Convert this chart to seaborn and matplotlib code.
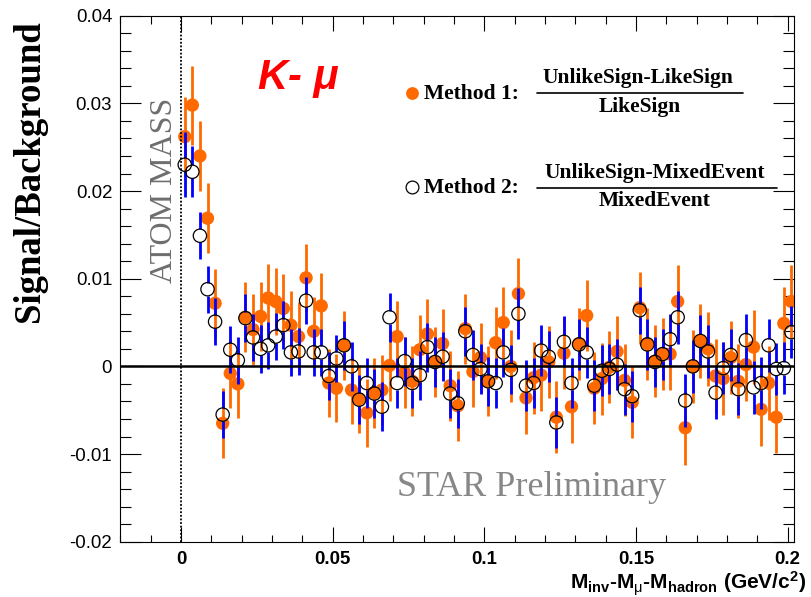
import numpy as np
import pandas as pd
import matplotlib
matplotlib.use("Agg")
import matplotlib.pyplot as plt
import seaborn as sns
from matplotlib.ticker import MultipleLocator, FuncFormatter

# ---------------------------------------------------------------- data
# bin centres of the 2.5 MeV mass-difference bins (GeV/c^2)
mass = np.arange(0.00125, 0.2015, 0.0025)

# Method 1: (UnlikeSign - LikeSign) / LikeSign
method1 = [
    0.0262, 0.0298, 0.0240, 0.0169, 0.0072, -0.0065, -0.0008, -0.0020, 0.0056, 0.0042,
    0.0057, 0.0078, 0.0074, 0.0066, 0.0047, 0.0034, 0.0101, 0.0040, 0.0069, -0.0019,
    -0.0025, 0.0024, -0.0027, -0.0037, -0.0053, -0.0030, -0.0027, 0.0001, 0.0034, -0.0007,
    -0.0017, 0.0019, 0.0037, 0.0005, 0.0026, -0.0022, -0.0045, 0.0043, -0.0006, 0.0010,
    -0.0017, 0.0027, 0.0050, 0.0000, 0.0083, -0.0036, -0.0013, -0.0010, 0.0005, -0.0058,
    0.0015, -0.0046, 0.0026, 0.0058, -0.0025, -0.0014, -0.0001, 0.0017, -0.0016, -0.0041,
    0.0067, 0.0026, 0.0006, 0.0014, 0.0014, 0.0074, -0.0070, 0.0000, 0.0029, 0.0020,
    -0.0011, -0.0014, 0.0010, -0.0017, 0.0002, 0.0022, -0.0049, -0.0019, -0.0058, 0.0049,
    0.0074,
]
method1_err = [
    0.0045, 0.0045, 0.0040, 0.0040, 0.0039, 0.0040, 0.0039, 0.0039, 0.0040, 0.0040,
    0.0039, 0.0039, 0.0038, 0.0039, 0.0039, 0.0039, 0.0039, 0.0039, 0.0038, 0.0039,
    0.0039, 0.0039, 0.0039, 0.0039, 0.0039, 0.0040, 0.0040, 0.0040, 0.0040, 0.0040,
    0.0040, 0.0040, 0.0040, 0.0040, 0.0040, 0.0040, 0.0040, 0.0040, 0.0040, 0.0040,
    0.0040, 0.0041, 0.0041, 0.0041, 0.0041, 0.0041, 0.0041, 0.0041, 0.0041, 0.0041,
    0.0041, 0.0041, 0.0041, 0.0041, 0.0041, 0.0041, 0.0041, 0.0041, 0.0041, 0.0041,
    0.0041, 0.0041, 0.0041, 0.0041, 0.0041, 0.0042, 0.0042, 0.0042, 0.0042, 0.0042,
    0.0042, 0.0042, 0.0042, 0.0042, 0.0042, 0.0042, 0.0042, 0.0042, 0.0041, 0.0042,
    0.0042,
]

# Method 2: (UnlikeSign - MixedEvent) / MixedEvent
method2 = [
    0.0230, 0.0222, 0.0149, 0.0088, 0.0051, -0.0055, 0.0019, 0.0007, 0.0055, 0.0033,
    0.0020, 0.0024, 0.0034, 0.0047, 0.0016, 0.0017, 0.0075, 0.0016, 0.0016, -0.0011,
    0.0009, 0.0024, 0.0000, -0.0038, -0.0019, -0.0031, -0.0046, 0.0056, -0.0019, 0.0006,
    -0.0019, -0.0010, 0.0022, 0.0005, 0.0011, -0.0031, -0.0042, 0.0040, 0.0013, -0.0003,
    -0.0017, -0.0019, 0.0016, -0.0004, 0.0060, -0.0022, -0.0019, 0.0018, 0.0011, -0.0064,
    0.0028, -0.0019, 0.0025, 0.0016, -0.0022, -0.0005, -0.0003, 0.0002, -0.0026, -0.0034,
    0.0064, 0.0025, 0.0005, 0.0014, 0.0031, 0.0056, -0.0039, 0.0000, 0.0029, 0.0017,
    -0.0030, -0.0002, 0.0013, -0.0026, 0.0030, -0.0024, -0.0019, 0.0024, -0.0003, -0.0002,
    0.0039,
]
method2_err = [
    0.0037, 0.0029, 0.0027, 0.0027, 0.0027, 0.0027, 0.0027, 0.0027, 0.0027, 0.0027,
    0.0027, 0.0027, 0.0027, 0.0027, 0.0027, 0.0027, 0.0027, 0.0027, 0.0027, 0.0027,
    0.0027, 0.0028, 0.0028, 0.0028, 0.0028, 0.0028, 0.0028, 0.0028, 0.0028, 0.0028,
    0.0028, 0.0028, 0.0028, 0.0028, 0.0028, 0.0028, 0.0028, 0.0028, 0.0028, 0.0028,
    0.0028, 0.0028, 0.0028, 0.0028, 0.0029, 0.0029, 0.0029, 0.0029, 0.0029, 0.0029,
    0.0029, 0.0029, 0.0029, 0.0029, 0.0029, 0.0029, 0.0029, 0.0029, 0.0029, 0.0029,
    0.0027, 0.0029, 0.0029, 0.0029, 0.0029, 0.0030, 0.0030, 0.0030, 0.0030, 0.0030,
    0.0030, 0.0030, 0.0030, 0.0030, 0.0030, 0.0030, 0.0030, 0.0030, 0.0030, 0.0030,
    0.0030,
]

x_ticks = [0, 0.05, 0.1, 0.15, 0.2]
y_ticks = [-0.02, -0.01, 0, 0.01, 0.02, 0.03, 0.04]

df = pd.DataFrame({
    "mass": mass,
    "m1": method1, "m1_err": method1_err,
    "m2": method2, "m2_err": method2_err,
})

# ---------------------------------------------------------------- style
sns.set_theme(style="ticks")
plt.rcParams.update({
    "font.family": ["Liberation Sans", "DejaVu Sans"],
    "mathtext.fontset": "custom",
    "mathtext.rm": "Liberation Sans",
    "mathtext.bf": "Liberation Sans:bold",
    "mathtext.it": "Liberation Sans:italic",
    "axes.edgecolor": "black",
    "axes.linewidth": 0.8,
    "xtick.color": "black",
    "ytick.color": "black",
    "figure.facecolor": "white",
    "axes.facecolor": "white",
})

ORANGE = "#ff6a00"
BLUE = "#0000ff"
SERIF = ["Liberation Serif", "DejaVu Serif"]

W, H = 812, 597
fig = plt.figure(figsize=(W / 100, H / 100), dpi=100)


def fxy(x, y):
    """pixel position -> figure fraction"""
    return x / W, 1 - y / H


ax_l, ax_r, ax_t, ax_b = 120.3, 794.3, 15.7, 541.7
ax = fig.add_axes([ax_l / W, 1 - ax_b / H, (ax_r - ax_l) / W, (ax_b - ax_t) / H])
ax.set_xlim(-0.02, 0.2022)
ax.set_ylim(y_ticks[0], y_ticks[-1])

# marker radius expressed in y data units (error bars stop at the marker edge)
marker_px = 13.0
y_per_px = 0.06 / (ax_b - ax_t)
r = marker_px / 2 * y_per_px

# Method 1 : error bars then filled markers
ax.vlines(df["mass"], df["m1"] - df["m1_err"], df["m1"] + df["m1_err"],
          color=ORANGE, lw=2.0, zorder=2)
sns.scatterplot(data=df, x="mass", y="m1", ax=ax, s=92, color=ORANGE,
                edgecolor="none", linewidth=0, zorder=3, legend=False)

# Method 2 : error bars broken around the hollow markers
ax.vlines(df["mass"], df["m2"] + r, df["m2"] + df["m2_err"],
          color=BLUE, lw=2.0, zorder=4)
ax.vlines(df["mass"], df["m2"] - df["m2_err"], df["m2"] - r,
          color=BLUE, lw=2.0, zorder=4)
sns.scatterplot(data=df, x="mass", y="m2", ax=ax, s=92, color="black",
                linewidth=0.9, zorder=5, legend=False)
hollow = ax.collections[-1]
hollow.set_facecolor("none")
hollow.set_edgecolor("black")
hollow.set_linewidth(0.9)

# reference lines
ax.axhline(0, color="black", lw=1.8, zorder=6)
ax.axvline(0, color="black", lw=1.3, ls=(0, (1, 1)), zorder=6)

# axes, ROOT-like inward ticks on all four sides
ax.set_xticks(x_ticks, [f"{v:g}" for v in x_ticks], fontweight="bold")
ax.xaxis.set_minor_locator(MultipleLocator(0.01))
ax.set_yticks(y_ticks)
ax.yaxis.set_major_formatter(FuncFormatter(lambda v, p: f"{round(v, 3):g}"))
ax.yaxis.set_minor_locator(MultipleLocator(0.002))
ax.tick_params(axis="x", which="major", direction="in", length=10.8, width=0.8,
               top=True, pad=7.0, labelsize=13.4)
ax.tick_params(axis="x", which="minor", direction="in", length=5.4, width=0.8, top=True)
ax.tick_params(axis="y", which="major", direction="in", length=15, width=0.8,
               right=True, pad=5.8, labelsize=13.4)
ax.tick_params(axis="y", which="minor", direction="in", length=7.6, width=0.8, right=True)
ax.set_xlabel("")
ax.set_ylabel("")
for s in ax.spines.values():
    s.set_visible(True)
    s.set_color("black")
    s.set_linewidth(0.8)

# axis titles
fig.text(*fxy(30, 20), "Signal/Background", rotation=90, ha="center", va="top",
         family=SERIF, fontweight="bold", fontsize=26.5, color="black")
fig.text(*fxy(806, 590),
         r"$\mathbf{M_{inv}}$-$\mathbf{M}_{\mathrm{\mu}}$-$\mathbf{M_{hadron}}$ (GeV/c$^{\mathbf{2}}$)",
         ha="right", va="baseline", fontsize=15, fontweight="bold", color="black")

# annotations
fig.text(*fxy(165, 190), "ATOM MASS", rotation=90, ha="center", va="center",
         family=SERIF, fontsize=23, color="#6e6e6e")
fig.text(*fxy(532, 488), "STAR Preliminary", ha="center", va="center",
         family=SERIF, fontsize=26, color="#878787")
fig.text(*fxy(298, 78), "K- μ", ha="center", va="center", fontsize=30,
         fontweight="bold", fontstyle="italic", color="#ff0000")

# legend with fractional definitions
leg_font = dict(family=SERIF, fontweight="bold", fontsize=15.5, color="black")
fig.add_artist(plt.Line2D([fxy(411.7, 0)[0]], [fxy(0, 93.3)[1]], marker="o",
                          markersize=9.2, color=ORANGE, markeredgecolor="none",
                          transform=fig.transFigure))
fig.add_artist(plt.Line2D([fxy(411.7, 0)[0]], [fxy(0, 186.7)[1]], marker="o",
                          markersize=9.2, markerfacecolor="none",
                          markeredgecolor="black", markeredgewidth=0.9,
                          transform=fig.transFigure))
fig.text(*fxy(424, 94), "Method 1:", ha="left", va="center", **leg_font)
fig.text(*fxy(424, 188), "Method 2:", ha="left", va="center", **leg_font)

fig.text(*fxy(638, 78), "UnlikeSign-LikeSign", ha="center", va="center", **leg_font)
fig.text(*fxy(640, 107), "LikeSign", ha="center", va="center", **leg_font)
fig.add_artist(plt.Line2D([537 / W, 743 / W], [1 - 93.3 / H] * 2, color="black",
                          lw=1.2, transform=fig.transFigure))

fig.text(*fxy(655, 173), "UnlikeSign-MixedEvent", ha="center", va="center", **leg_font)
fig.text(*fxy(655, 201), "MixedEvent", ha="center", va="center", **leg_font)
fig.add_artist(plt.Line2D([537 / W, 777 / W], [1 - 187.7 / H] * 2, color="black",
                          lw=1.2, transform=fig.transFigure))

fig.savefig("out.png", dpi=100, facecolor="white")
